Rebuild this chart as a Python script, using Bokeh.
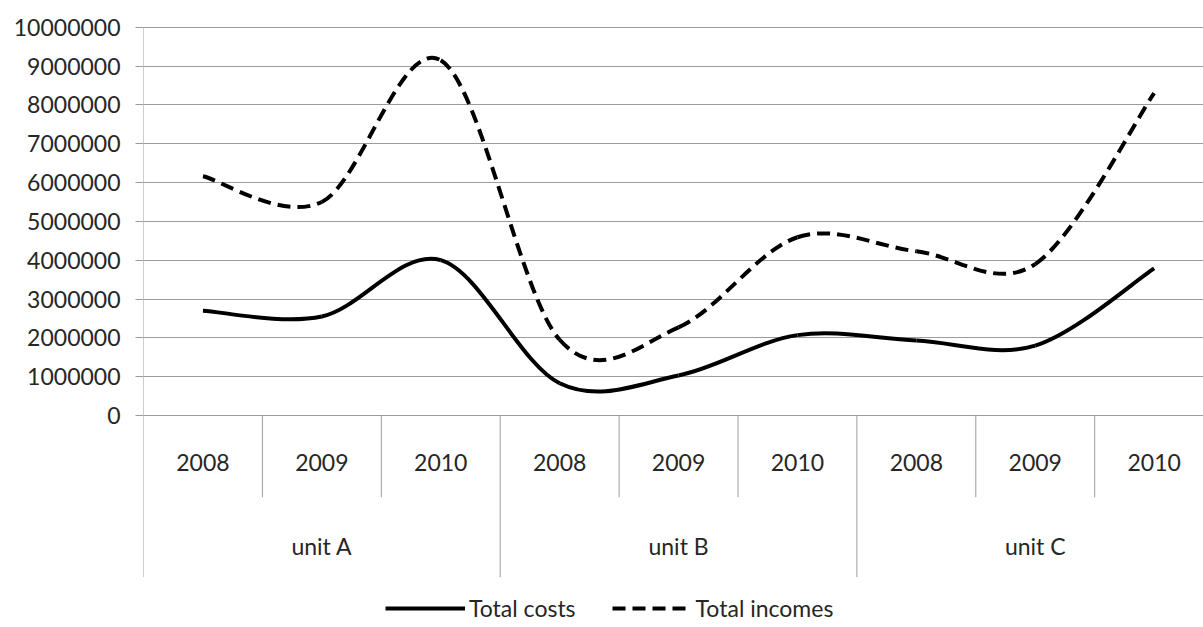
import numpy as np
from bokeh.plotting import figure
from bokeh.models import (Range1d, FixedTicker, BasicTickFormatter, Legend, LegendItem,
                          ColumnDataSource)
from bokeh.core.properties import value
from bokeh.embed import file_html
from bokeh.resources import INLINE

# ---------------- data ----------------
units = ["unit A", "unit B", "unit C"]
years = ["2008", "2009", "2010"]
total_costs = [2700000, 2550000, 4000000, 830000, 1030000, 2070000, 1930000, 1800000, 3790000]
total_incomes = [6160000, 5500000, 9150000, 1950000, 2270000, 4590000, 4230000, 3900000, 8300000]
y_ticks = [0, 1000000, 2000000, 3000000, 4000000, 5000000, 6000000, 7000000, 8000000, 9000000, 10000000]

# ---------------- layout constants ----------------
FONT = "Lato"
FS = "23px"
TXT = "#262626"
GRID = "#9c9c9c"
W, H = 1203, 627
LEFT = 143
CAT_PX = 118.9           # px per category
PX_PER_VAL = 388.3 / 10000000
ZERO_PX = 415            # y of value 0 from figure top
frame_w = W - LEFT
y_end = ZERO_PX / PX_PER_VAL
y_start = -(H - ZERO_PX) / PX_PER_VAL

p = figure(width=W, height=H, output_backend="svg", toolbar_location=None, title=None,
           x_range=Range1d(0, frame_w / CAT_PX), y_range=Range1d(y_start, y_end),
           x_axis_location=None, min_border_left=LEFT, min_border_right=0,
           min_border_top=0, min_border_bottom=0)
p.outline_line_color = None
p.background_fill_color = "white"
p.border_fill_color = "white"

ax = p.yaxis[0]
ax.ticker = FixedTicker(ticks=y_ticks)
ax.formatter = BasicTickFormatter(use_scientific=False)
ax.axis_line_color = None
ax.major_tick_line_color = GRID
ax.major_tick_out = 8
ax.major_tick_in = 0
ax.minor_tick_out = 0
ax.minor_tick_in = 0
ax.major_label_standoff = 15
ax.major_label_text_font = FONT
ax.major_label_text_font_size = FS
ax.major_label_text_color = TXT

p.ygrid.ticker = FixedTicker(ticks=y_ticks)
p.ygrid.grid_line_color = GRID
p.ygrid.grid_line_width = 1
p.xgrid.visible = False

n = len(total_costs)
xc = np.arange(n) + 0.5

# ---------------- category axis (separators + labels) ----------------
year_sep_px = 496.7 - 415
unit_sep_px = 576.7 - 415
yb_year = -year_sep_px / PX_PER_VAL
yb_unit = -unit_sep_px / PX_PER_VAL
bounds = np.arange(n + 1)
year_b = [b for b in bounds if b % len(years) != 0]
unit_b = [b for b in bounds if b % len(years) == 0]
p.segment(x0=year_b, y0=[0] * len(year_b), x1=year_b, y1=[yb_year] * len(year_b),
          line_color=GRID, line_width=1)
p.segment(x0=unit_b, y0=[y_ticks[-1] if b == 0 else 0 for b in unit_b], x1=unit_b,
          y1=[yb_unit] * len(unit_b), line_color=GRID, line_width=1)

year_labels = [y for _ in units for y in years]
p.text(x=list(xc), y=[0] * n, text=year_labels, y_offset=461.7 - 415,
       text_font=value(FONT), text_font_size=value(FS), text_color=TXT,
       text_align="center", text_baseline="middle")
unit_x = [i * len(years) + len(years) / 2 for i in range(len(units))]
p.text(x=unit_x, y=[0] * len(units), text=units, y_offset=545 - 415,
       text_font=value(FONT), text_font_size=value(FS), text_color=TXT,
       text_align="center", text_baseline="middle")


# ---------------- smoothed lines (Bezier segments through the data) ----------------
def bezier_source(xs, ys):
    xs = np.asarray(xs, float)
    ys = np.asarray(ys, float)
    m = len(xs)
    d = dict(x0=[], y0=[], x1=[], y1=[], cx0=[], cy0=[], cx1=[], cy1=[])
    for i in range(m - 1):
        im1 = max(i - 1, 0)
        ip2 = min(i + 2, m - 1)
        d["x0"].append(xs[i]); d["y0"].append(ys[i])
        d["x1"].append(xs[i + 1]); d["y1"].append(ys[i + 1])
        d["cx0"].append(xs[i] + (xs[i + 1] - xs[im1]) / 6)
        d["cy0"].append(ys[i] + (ys[i + 1] - ys[im1]) / 6)
        d["cx1"].append(xs[i + 1] - (xs[ip2] - xs[i]) / 6)
        d["cy1"].append(ys[i + 1] - (ys[ip2] - ys[i]) / 6)
    return ColumnDataSource(d)


LW = 4
DASH = "13 7"
rc = p.bezier(x0="x0", y0="y0", x1="x1", y1="y1", cx0="cx0", cy0="cy0", cx1="cx1", cy1="cy1",
              source=bezier_source(xc, total_costs), line_color="black", line_width=LW)
ri = p.bezier(x0="x0", y0="y0", x1="x1", y1="y1", cx0="cx0", cy0="cy0", cx1="cx1", cy1="cy1",
              source=bezier_source(xc, total_incomes), line_color="black", line_width=LW,
              line_dash=DASH)

legend = Legend(items=[LegendItem(label="Total costs", renderers=[rc]),
                       LegendItem(label="Total incomes", renderers=[ri])],
                orientation="horizontal", location=(385 - LEFT, 5),
                label_text_font=FONT, label_text_font_size=FS, label_text_color=TXT,
                glyph_width=80, glyph_height=20, label_standoff=4, spacing=36,
                padding=0, margin=0, border_line_alpha=0, background_fill_alpha=0)
p.add_layout(legend)

open("out.html", "w").write(file_html(p, INLINE))
